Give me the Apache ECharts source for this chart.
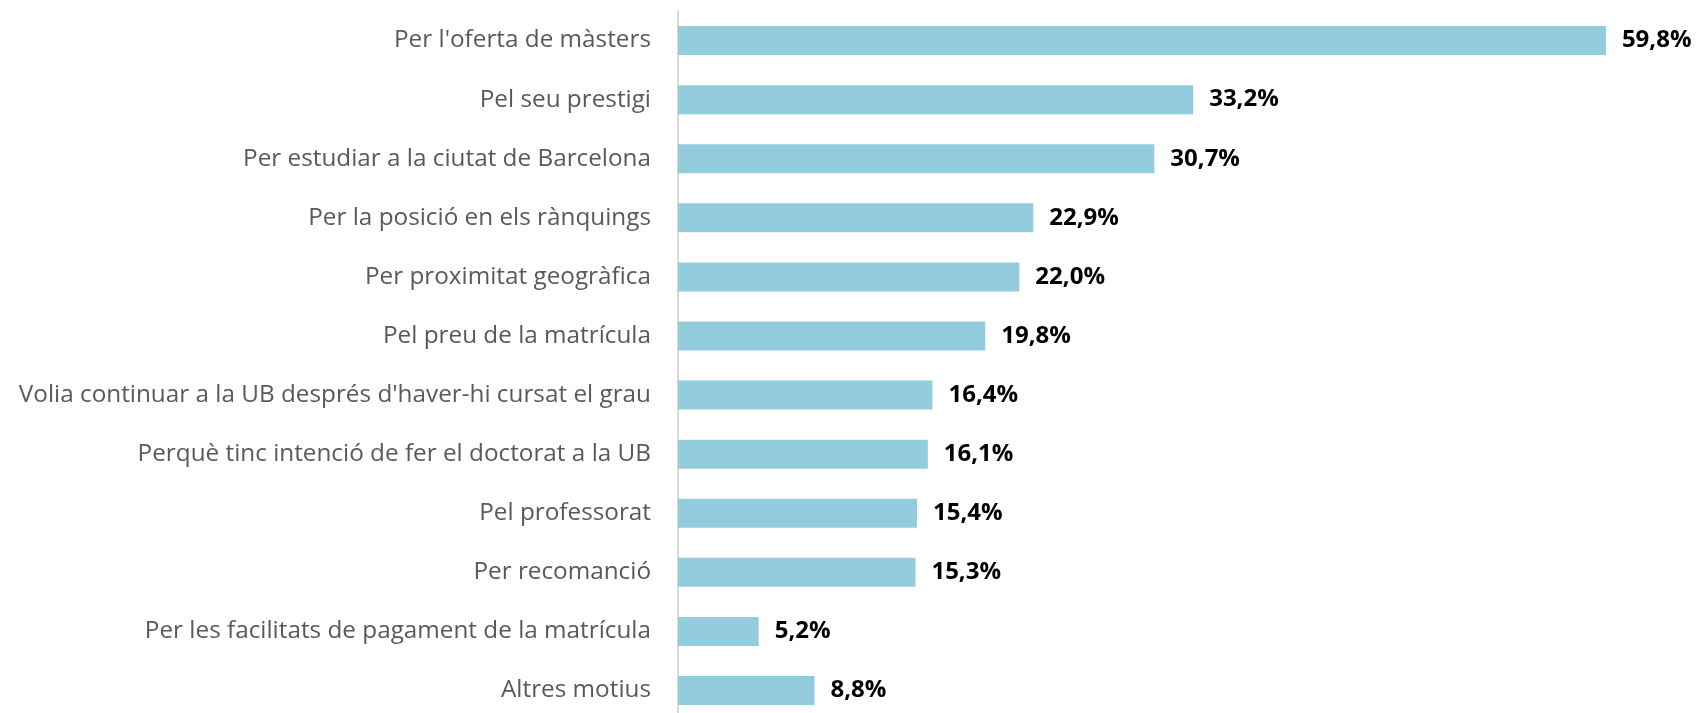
<!DOCTYPE html>
<html>
<head>
<meta charset="utf-8">
<script src="https://cdn.jsdelivr.net/npm/echarts@6/dist/echarts.min.js"></script>
<style>
html,body{margin:0;padding:0;background:#fff;}
#chart{width:1699px;height:713px;}
</style>
</head>
<body>
<div id="chart"></div>
<script>
const categories = [
  "Per l'oferta de màsters",
  "Pel seu prestigi",
  "Per estudiar a la ciutat de Barcelona",
  "Per la posició en els rànquings",
  "Per proximitat geogràfica",
  "Pel preu de la matrícula",
  "Volia continuar a la UB després d'haver-hi cursat el grau",
  "Perquè tinc intenció de fer el doctorat a la UB",
  "Pel professorat",
  "Per recomanció",
  "Per les facilitats de pagament de la matrícula",
  "Altres motius"
];
const values = [59.8, 33.2, 30.7, 22.9, 22.0, 19.8, 16.4, 16.1, 15.4, 15.3, 5.2, 8.8];

const chart = echarts.init(document.getElementById('chart'), null, {renderer: 'canvas'});
chart.setOption({
  animation: false,
  grid: {left: 678, width: 931, top: 11, height: 709, containLabel: false, outerBoundsMode: 'none'},
  xAxis: {
    type: 'value', min: 0, max: 60,
    show: false
  },
  yAxis: {
    type: 'category',
    data: categories,
    inverse: true,
    axisLine: {show: true, lineStyle: {color: '#d9d9d9', width: 2}},
    axisTick: {show: false},
    axisLabel: {
      margin: 27,
      color: '#595959',
      fontFamily: 'Open Sans',
      fontSize: 24.3
    }
  },
  series: [{
    type: 'bar',
    data: values,
    barWidth: 29,
    itemStyle: {color: '#93cddd'},
    label: {
      show: true,
      position: 'right',
      distance: 16,
      formatter: p => p.value.toFixed(1).replace('.', ',') + '%',
      color: '#000',
      fontFamily: 'Open Sans',
      fontWeight: 'bold',
      fontSize: 24
    }
  }]
});
</script>
</body>
</html>
